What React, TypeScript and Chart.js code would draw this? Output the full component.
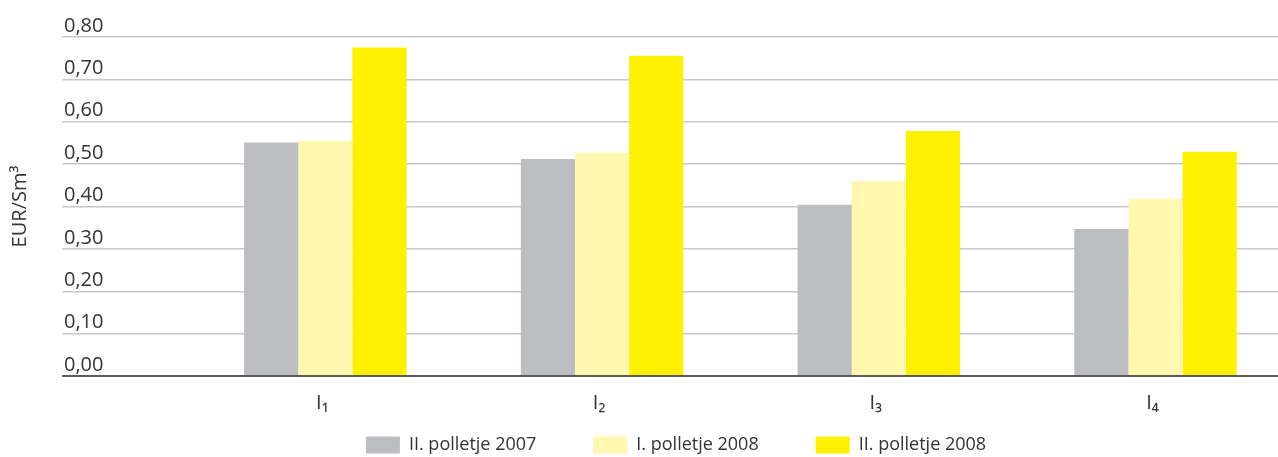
import React, { useEffect, useRef } from 'react';
import { Chart, registerables } from 'chart.js';

Chart.register(...registerables);

const categories = ['I₁', 'I₂', 'I₃', 'I₄'];
const seriesNames = ['II. polletje 2007', 'I. polletje 2008', 'II. polletje 2008'];
const polletje2007II = [0.551, 0.512, 0.404, 0.347];
const polletje2008I = [0.555, 0.526, 0.46, 0.418];
const polletje2008II = [0.775, 0.756, 0.578, 0.529];
const seriesColors = ['#bcbdc0', '#fff7b0', '#fff000'];
const yAxisTitle = 'EUR/Sm³';

const FONT = "'Open Sans', sans-serif";

export default function App() {
  const ref = useRef<HTMLCanvasElement>(null);

  useEffect(() => {
    document.body.style.margin = '0';
    document.body.style.overflow = 'hidden';
    document.documentElement.style.overflow = 'hidden';
    const seriesValues = [polletje2007II, polletje2008I, polletje2008II];
    const chart = new Chart(ref.current as HTMLCanvasElement, {
      type: 'bar',
      data: {
        datasets: seriesValues.map((vals, i) => ({
          label: seriesNames[i],
          data: vals.map((v, j) => ({ x: j, y: v })),
          backgroundColor: seriesColors[i],
          borderWidth: 0,
          categoryPercentage: 0.587,
          barPercentage: 1.0,
        })),
      },
      options: {
        animation: false,
        responsive: true,
        maintainAspectRatio: false,
        layout: { padding: { top: 37, left: 0, right: 0, bottom: -7 } },
        plugins: {
          tooltip: { enabled: false },
          legend: {
            position: 'bottom',
            fullSize: false,
            labels: {
              boxWidth: 34,
              boxHeight: 17,
              padding: 57,
              color: '#333333',
              font: { family: FONT, size: 18 },
            },
          },
        },
        scales: {
          x: {
            type: 'linear',
            offset: false,
            min: -0.9516,
            max: 3.486,
            grid: { display: false, drawTicks: false, offset: false },
            border: { display: false },
            afterBuildTicks: (s: any) => {
              s.ticks = categories.map((_, i) => ({ value: i }));
            },
            afterFit: (s: any) => {
              s.height = 3;
            },
            ticks: {
              autoSkip: false,
              maxRotation: 0,
              mirror: true,
              padding: -39,
              labelOffset: -3,
              color: '#333333',
              font: { family: FONT, size: 20 },
              callback: (v: any) => {
                const k = Math.round(Number(v));
                return categories[k] !== undefined ? categories[k] : '';
              },
            },
          },
          y: {
            min: 0,
            max: 0.8,
            afterFit: (s: any) => {
              s.width = 62;
            },
            border: { display: false },
            grid: {
              drawTicks: false,
              color: (c: any) => (c.tick && c.tick.value === 0 ? '#5a5a5a' : '#c8c8c8'),
              lineWidth: (c: any) => (c.tick && c.tick.value === 0 ? 2 : 1.5),
            },
            title: {
              display: true,
              text: yAxisTitle,
              color: '#333333',
              font: { family: FONT, size: 20 },
              padding: { top: 8, bottom: 0 },
            },
            ticks: {
              stepSize: 0.1,
              mirror: true,
              padding: 2,
              labelOffset: -11,
              color: '#333333',
              font: { family: FONT, size: 20 },
              callback: (v: any) => Number(v).toFixed(2).replace('.', ','),
            },
          },
        },
      },
    });
    return () => chart.destroy();
  }, []);

  return (
    <div style={{ position: 'relative', width: 1290, height: 457 }}>
      <canvas ref={ref} />
    </div>
  );
}
